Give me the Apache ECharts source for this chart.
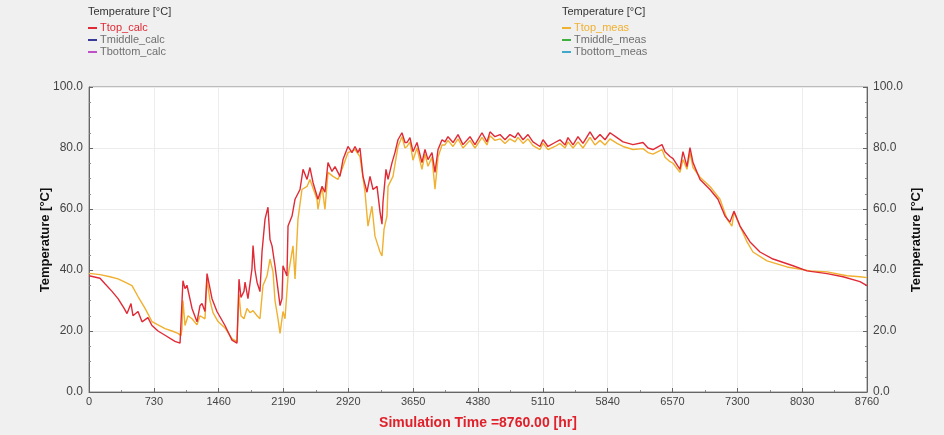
<!DOCTYPE html>
<html><head><meta charset="utf-8">
<script src="https://cdn.jsdelivr.net/npm/echarts@6/dist/echarts.min.js"></script>
<style>html,body{margin:0;padding:0;background:#f0f0f0}#c{width:944px;height:435px}</style>
</head><body><div id="c"></div>
<script>
// ---- data ----
const xTicks = [0,730,1460,2190,2920,3650,4380,5110,5840,6570,7300,8030,8760];
const yTicks = [0,20,40,60,80,100];
const seriesNames = ['Ttop_calc','Tmiddle_calc','Tbottom_calc','Ttop_meas','Tmiddle_meas','Tbottom_meas'];
const yTitle = 'Temperature [°C]';
const xTitle = 'Simulation Time =8760.00 [hr]';

const hoursCalc = [0,124,180,259,327,394,428,473,495,552,597,664,709,777,856,968,1025,1047,1058,1081,1103,1160,1216,1250,1272,1306,1329,1385,1441,1531,1610,1666,1689,1711,1745,1757,1790,1835,1847,1869,1892,1925,1948,1982,2015,2038,2061,2094,2151,2173,2184,2229,2241,2286,2320,2376,2410,2455,2488,2522,2578,2624,2657,2691,2736,2770,2826,2860,2916,2961,2995,3029,3051,3085,3130,3164,3198,3243,3277,3299,3310,3344,3367,3412,3445,3479,3524,3558,3581,3614,3648,3693,3749,3783,3817,3862,3896,3930,3975,4008,4042,4099,4155,4211,4290,4346,4425,4481,4515,4571,4628,4684,4740,4797,4830,4887,4943,4999,5078,5112,5168,5247,5303,5360,5393,5450,5506,5562,5641,5697,5754,5810,5866,5945,6013,6125,6238,6294,6350,6452,6486,6542,6576,6654,6688,6733,6767,6801,6880,6992,7082,7161,7217,7262,7330,7443,7555,7702,7927,8084,8310,8490,8681,8760];
const tTopCalc = [38.1,37.3,35.5,33,30.6,27.5,25.7,29,25,26.4,23,24.4,21.8,20,18.6,16.6,16,16.5,36.5,33.9,35,27.4,23,28.3,29,26.4,38.8,30.6,26.4,21.8,17,16,37,31,33,36,30.6,40.4,48,40,36,32.9,45.9,56.7,60.6,50,47.9,41.4,28.3,30.6,41.4,38,54.4,57.7,63.2,66.4,73,69.7,73.6,68.7,63.2,67.4,65.5,75.2,72.3,73.9,70.7,76.2,80.5,78.5,80.5,78.5,80,70.7,65.5,70.7,66.4,67.4,59,55,62.2,73,69.7,75.2,78.5,82.7,85,81.8,81.8,83.4,78.8,81.8,75.2,79.5,76.2,78.5,72,79.5,82.7,82,83.7,81.8,84.4,81.1,83.7,81.1,85,82,85.3,83.7,84.4,82.7,84.4,83.4,85,82.7,84.4,82,80.5,82.7,80.5,81.8,82.7,81,83.4,81,83.7,81.5,85.3,82.7,84.4,82.7,85,83.4,82,81.1,81.8,80,79.5,81.1,78.8,77.2,76.5,73,78.8,73.9,80.1,75.2,69.7,66.4,63.2,57.7,55.7,59.3,54.4,49.2,45.9,43.6,41.4,39.7,38.8,37.8,36.2,34.9];

const hoursMeas = [0,124,236,327,405,484,552,631,709,777,856,935,1002,1036,1047,1058,1081,1115,1160,1216,1250,1272,1306,1329,1362,1396,1453,1531,1610,1666,1689,1711,1745,1779,1813,1847,1892,1925,1959,2004,2038,2072,2094,2128,2151,2184,2207,2241,2297,2320,2353,2398,2455,2488,2533,2567,2578,2624,2657,2691,2747,2804,2860,2916,2995,3051,3108,3141,3186,3220,3254,3277,3299,3322,3355,3367,3423,3479,3524,3558,3581,3614,3648,3693,3749,3783,3817,3862,3896,3930,3975,4008,4042,4099,4155,4211,4290,4346,4425,4481,4515,4571,4628,4684,4740,4797,4830,4887,4943,4999,5078,5112,5168,5247,5303,5360,5393,5450,5506,5562,5641,5697,5754,5810,5866,5945,6013,6125,6238,6294,6350,6452,6486,6542,6576,6654,6688,6733,6767,6801,6880,6992,7105,7184,7239,7262,7330,7409,7476,7634,7859,8118,8310,8535,8681,8760];
const tTopMeas = [38.9,38.5,37.8,37.1,36,34.9,31.3,27.4,23.1,22,20.8,20,19.2,18.5,20.8,30,21.8,25,24,22,25,24.7,24,37,30,26,23.1,21,17.5,16.5,32,25,24,27.4,26,26.7,25,24,34.9,38,43.6,39.4,30,24,19.2,26.4,24,38,47.9,37.1,56.7,66.4,67.4,69.7,66,63.2,59.9,67.4,59.9,72,70.7,69.7,73.9,78.5,79.5,77.2,65.5,54.4,60.9,51.1,48,45.9,44.6,53.4,57.7,67.4,70.7,80.5,83.7,80,80.5,82,76,80,73,78,74,77,66.5,77,81,81,82.5,80.5,83,80,82.5,80,83.5,81,84,82.5,83,81.5,83,82,83.5,81.5,83,80.8,79.5,81.5,79.5,80.5,81.5,80,82,80,82,80,83.5,81,82.5,81,83,81.5,80.5,79.5,79.8,78.5,78,79.5,77,75.5,75,72,76.2,73,78.5,73.6,70.4,67.4,63.2,56.7,54.4,59,54.4,49.2,45.9,43,41,39.7,39.4,38.1,37.8,37.5];

// ---- styling ----
const colors = {Ttop_calc:'#e02a36',Tmiddle_calc:'#3a3a9a',Tbottom_calc:'#c050c8',Ttop_meas:'#f0b030',Tmiddle_meas:'#40b040',Tbottom_meas:'#40a8c8'};
const textColors = {Ttop_calc:'#e02a36',Tmiddle_calc:'#707070',Tbottom_calc:'#707070',Ttop_meas:'#f0b030',Tmiddle_meas:'#707070',Tbottom_meas:'#707070'};

function pairs(xs, ys){ return xs.map((x,i)=>[x, ys[i]]); }

const chart = echarts.init(document.getElementById('c'), null, {renderer:'canvas'});
const yAxisBase = {
  type:'value', min:0, max:100, interval:20,
  axisLine:{show:true, lineStyle:{color:'#666', width:1}},
  axisTick:{show:true, inside:true, length:4, lineStyle:{color:'#666'}},
  minorTick:{show:true, splitNumber:4, length:2, lineStyle:{color:'#888'}},
  axisLabel:{formatter:v=>v.toFixed(1), fontFamily:'Liberation Sans, Arial, sans-serif', fontSize:12, color:'#444', margin:6},
  splitLine:{show:true, lineStyle:{color:'#ececec', width:1}}
};
const legendItem = n => ({name:n, itemStyle:{color:colors[n]}, textStyle:{color:textColors[n]}});
const legendBase = {
  orient:'vertical', icon:'rect', itemWidth:9, itemHeight:2, itemGap:0,
  selectedMode:false,
  textStyle:{fontFamily:'Liberation Sans, Arial, sans-serif', fontSize:11, lineHeight:12, padding:[0,0,0,-2]}
};
const yTitleFont = 'bold 13px "Liberation Sans", Arial, sans-serif';
chart.setOption({
  animation:false,
  backgroundColor:'#f0f0f0',
  graphic:[
    {type:'text', left:88, top:6, style:{text:'Temperature [°C]', font:'11px "Liberation Sans", Arial, sans-serif', fill:'#333'}},
    {type:'text', left:562, top:6, style:{text:'Temperature [°C]', font:'11px "Liberation Sans", Arial, sans-serif', fill:'#333'}},
    {type:'text', x:45, y:240, rotation:Math.PI/2, style:{text:yTitle, font:yTitleFont, fill:'#111', align:'center', verticalAlign:'middle'}},
    {type:'text', x:916, y:240, rotation:Math.PI/2, style:{text:yTitle, font:yTitleFont, fill:'#111', align:'center', verticalAlign:'middle'}}
  ],
  legend:[
    Object.assign({}, legendBase, {left:83, top:17, data:seriesNames.slice(0,3).map(legendItem)}),
    Object.assign({}, legendBase, {left:557, top:17, data:seriesNames.slice(3).map(legendItem)})
  ],
  grid:{left:89, right:77, top:87, bottom:40, show:true, backgroundColor:'#ffffff', borderColor:'#888', borderWidth:1},
  xAxis:{
    type:'value', min:0, max:8760, interval:730,
    name:xTitle, nameLocation:'middle', nameGap:24,
    nameTextStyle:{fontFamily:'Liberation Sans Narrow, Liberation Sans, Arial, sans-serif', fontSize:14, fontWeight:'bold', color:'#e0202a'},
    axisLine:{show:true, lineStyle:{color:'#666'}},
    axisTick:{show:true, inside:true, length:4, lineStyle:{color:'#666'}},
    minorTick:{show:true, splitNumber:2, length:2, lineStyle:{color:'#888'}},
    axisLabel:{fontFamily:'Liberation Sans Narrow, Liberation Sans, Arial, sans-serif', fontSize:11, color:'#444', margin:4,
      formatter:v=> xTicks.indexOf(v)>=0 ? String(v) : ''},
    splitLine:{show:true, lineStyle:{color:'#ececec', width:1}}
  },
  yAxis:[
    Object.assign({}, yAxisBase, {position:'left'}),
    Object.assign({}, yAxisBase, {position:'right', splitLine:{show:false}})
  ],
  series:[
    {name:'Tmiddle_calc', type:'line', data:[], color:colors.Tmiddle_calc, showSymbol:false},
    {name:'Tbottom_calc', type:'line', data:[], color:colors.Tbottom_calc, showSymbol:false},
    {name:'Tmiddle_meas', type:'line', data:[], color:colors.Tmiddle_meas, showSymbol:false},
    {name:'Tbottom_meas', type:'line', data:[], color:colors.Tbottom_meas, showSymbol:false},
    {name:'Ttop_meas', type:'line', data:pairs(hoursMeas, tTopMeas), color:colors.Ttop_meas, showSymbol:false, symbol:'none',
      lineStyle:{width:1.4, color:colors.Ttop_meas}},
    {name:'Ttop_calc', type:'line', data:pairs(hoursCalc, tTopCalc), color:colors.Ttop_calc, showSymbol:false, symbol:'none',
      lineStyle:{width:1.4, color:colors.Ttop_calc}}
  ]
});
</script></body></html>
